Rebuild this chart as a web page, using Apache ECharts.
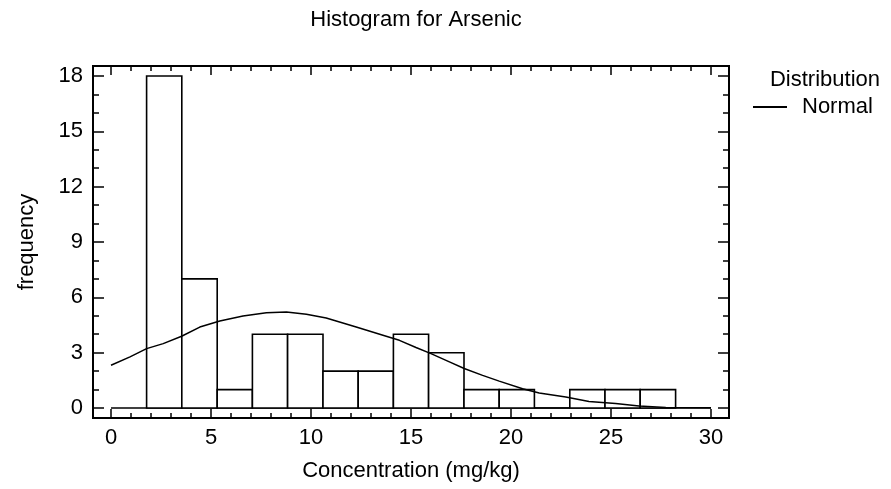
<!DOCTYPE html>
<html>
<head>
<meta charset="utf-8">
<script src="https://cdn.jsdelivr.net/npm/echarts@6/dist/echarts.min.js"></script>
<style>
  html, body { margin: 0; padding: 0; background: #fff; }
  #chart { width: 891px; height: 489px; }
</style>
</head>
<body>
<div id="chart"></div>
<script>
// ---- Data ----
const binEdges = [1.78, 3.54, 5.31, 7.07, 8.83, 10.60, 12.36, 14.12, 15.88, 17.65, 19.41, 21.17, 22.94, 24.70, 26.46, 28.23];
const counts   = [18, 7, 1, 4, 4, 2, 2, 4, 3, 1, 1, 0, 1, 1, 1];

const curveX = [0, 0.95, 1.78, 2.61, 3.53, 4.44, 5.44, 6.6, 7.77, 8.77, 9.77, 10.76, 12.26, 13.76, 14.42, 15.25, 16.0, 16.92, 17.66, 18.58, 19.41, 20.58, 21.41, 22.74, 23.9, 25.23, 26.4, 27.74, 30];
const curveY = [2.32, 2.77, 3.22, 3.49, 3.89, 4.39, 4.72, 4.99, 5.17, 5.21, 5.08, 4.88, 4.39, 3.89, 3.67, 3.28, 2.95, 2.5, 2.14, 1.77, 1.46, 1.05, 0.81, 0.6, 0.36, 0.24, 0.11, 0.03, 0.01];

const baselineX = [0, 30];
const baselineY = [0, 0];

const xMajorTicks = [0, 5, 10, 15, 20, 25, 30];
const xMinorTicks = [0,1,2,3,4,5,6,7,8,9,10,11,12,13,14,15,16,17,18,19,20,21,22,23,24,25,26,27,28,29,30];
const yMajorTicks = [0, 3, 6, 9, 12, 15, 18];
const yMinorTicks = [0,1,2,3,4,5,6,7,8,9,10,11,12,13,14,15,16,17,18];

const titleText = 'Histogram for Arsenic';
const xName = 'Concentration (mg/kg)';
const yName = 'frequency';
const legendTitle = 'Distribution';
const seriesName = 'Normal';

// ---- Chart ----
const FONT = 'Liberation Sans, Arial, Helvetica, sans-serif';
const FS = 22;
const X_MIN = -0.9, X_MAX = 30.9, Y_MIN = -0.54, Y_MAX = 18.54;

function xAxisDef(pos, ticks, len, withLabel) {
  return {
    type: 'value', position: pos, min: X_MIN, max: X_MAX,
    axisLine: { show: false, onZero: false },
    splitLine: { show: false },
    axisTick: { show: true, inside: true, length: len, customValues: ticks,
      lineStyle: { color: '#000', width: 1.5 } },
    axisLabel: withLabel ? { show: true, customValues: ticks, color: '#000',
      fontFamily: FONT, fontSize: FS, margin: 9 } : { show: false },
    name: withLabel ? xName : '',
    nameLocation: 'middle', nameGap: 42,
    nameTextStyle: { color: '#000', fontFamily: FONT, fontSize: FS }
  };
}
function yAxisDef(pos, ticks, len, withLabel) {
  return {
    type: 'value', position: pos, min: Y_MIN, max: Y_MAX,
    axisLine: { show: false, onZero: false },
    splitLine: { show: false },
    axisTick: { show: true, inside: true, length: len, customValues: ticks,
      lineStyle: { color: '#000', width: 1.5 } },
    axisLabel: withLabel ? { show: true, customValues: ticks, color: '#000',
      fontFamily: FONT, fontSize: FS, margin: 10 } : { show: false },
    name: withLabel ? yName : '',
    nameLocation: 'middle', nameGap: 55, nameRotate: 90,
    nameTextStyle: { color: '#000', fontFamily: FONT, fontSize: FS }
  };
}

const chart = echarts.init(document.getElementById('chart'), null, { renderer: 'canvas' });

const barData = counts.map((c, i) => [binEdges[i], binEdges[i + 1], c]);
const curveData = curveX.map((x, i) => [x, curveY[i]]);
const baseData = baselineX.map((x, i) => [x, baselineY[i]]);

chart.setOption({
  animation: false,
  backgroundColor: '#fff',
  title: [
    { text: titleText, left: 411, top: 4, textAlign: 'center',
      textStyle: { color: '#000', fontFamily: FONT, fontSize: FS, fontWeight: 'normal' } },
    { text: legendTitle, right: 6, top: 64,
      textStyle: { color: '#000', fontFamily: FONT, fontSize: FS, fontWeight: 'normal' } }
  ],
  legend: {
    data: [{ name: seriesName, icon: 'rect' }],
    left: 753, top: 96, padding: 0,
    itemWidth: 34, itemHeight: 2,
    textStyle: { color: '#000', fontFamily: FONT, fontSize: FS, padding: [0, 0, 0, 10] },
    selectedMode: false
  },
  grid: {
    left: 93, right: 162, top: 66, bottom: 71,
    show: true, borderColor: '#000', borderWidth: 2, backgroundColor: 'transparent'
  },
  xAxis: [
    xAxisDef('bottom', xMajorTicks, 9, true),
    xAxisDef('bottom', xMinorTicks, 5, false),
    xAxisDef('top', xMajorTicks, 9, false),
    xAxisDef('top', xMinorTicks, 5, false)
  ],
  yAxis: [
    yAxisDef('left', yMajorTicks, 11, true),
    yAxisDef('left', yMinorTicks, 6, false),
    yAxisDef('right', yMajorTicks, 11, false),
    yAxisDef('right', yMinorTicks, 6, false)
  ],
  series: [
    {
      name: 'baseline', type: 'line', data: baseData,
      xAxisIndex: 0, yAxisIndex: 0, showSymbol: false, silent: true,
      lineStyle: { color: '#000', width: 1.5 }, z: 1
    },
    {
      name: 'Counts', type: 'custom', data: barData,
      xAxisIndex: 0, yAxisIndex: 0, z: 2,
      encode: { x: [0, 1], y: 2 },
      renderItem: function (params, api) {
        const p0 = api.coord([api.value(0), api.value(2)]);
        const p1 = api.coord([api.value(1), 0]);
        return {
          type: 'rect',
          shape: { x: p0[0], y: p0[1], width: p1[0] - p0[0], height: p1[1] - p0[1] },
          style: { fill: '#fff', stroke: '#000', lineWidth: 1.6 }
        };
      }
    },
    {
      name: seriesName, type: 'line', data: curveData,
      xAxisIndex: 0, yAxisIndex: 0, showSymbol: false, smooth: false, z: 3,
      itemStyle: { color: '#000' },
      lineStyle: { color: '#000', width: 1.5 }
    }
  ]
});
</script>
</body>
</html>
